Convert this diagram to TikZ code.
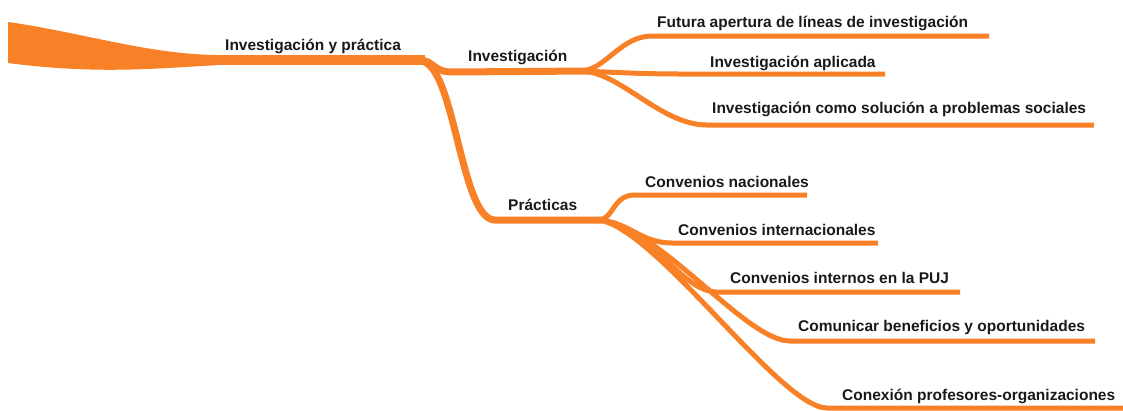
\documentclass[tikz,border=0pt]{standalone}
\usepackage{fontspec}
\setmainfont{Liberation Sans}
\definecolor{branch}{RGB}{248,128,38}
\begin{document}
\begin{tikzpicture}[x=1pt,y=-1pt,
  lbl/.style={font=\fontsize{15.5}{18}\selectfont\bfseries, inner sep=0pt, anchor=base west, text=black!90},
  br/.style={draw=branch, line width=#1, line cap=butt, line join=round}]
\useasboundingbox (0,0) rectangle (1123,410);
% trunk
\fill[branch] (8,22) .. controls (80,32) and (150,55) .. (220,55) -- (220,65) .. controls (160,68) and (100,75) .. (8,63) -- cycle;
\coordinate (t0) at (215,60);
\coordinate (t1) at (425,60);
\draw[br=10] (t0) -- (t1);
\node[lbl] (root) at (225,50) {Investigación y práctica};
% level 1
\coordinate (i0) at (452,72);
\coordinate (i1) at (590,71);
\coordinate (p0) at (495,220);
\coordinate (p1) at (602,220);
\draw[br=7] (418,60) .. controls (435,60) and (432,72) .. (i0) -- (i1);
\draw[br=7] (420,61) .. controls (455,61) and (460,220) .. (p0) -- (p1);
\node[lbl] (inv) at (468,61) {Investigación};
\node[lbl] (pra) at (508,210) {Prácticas};
% Investigación children
\coordinate (a0) at (652,36);  \coordinate (a1) at (989,36);
\coordinate (b0) at (680,74);  \coordinate (b1) at (885,74);
\coordinate (c0) at (707,125); \coordinate (c1) at (1094,125);
\draw[br=5] (580,71) .. controls (605,71) and (620,36) .. (a0) -- (a1);
\draw[br=5] (580,71) .. controls (610,72) and (640,74) .. (b0) -- (b1);
\draw[br=5] (580,71) .. controls (620,71) and (660,125) .. (c0) -- (c1);
\node[lbl] (fa) at (657,27) {Futura apertura de líneas de investigación};
\node[lbl] (fb) at (710,67) {Investigación aplicada};
\node[lbl] (fc) at (712,113) {Investigación como solución a problemas sociales};
% Prácticas children
\coordinate (d0) at (635,195); \coordinate (d1) at (807,195);
\coordinate (e0) at (672,243); \coordinate (e1) at (878,243);
\coordinate (f0) at (717,292); \coordinate (f1) at (960,292);
\coordinate (g0) at (790,341); \coordinate (g1) at (1095,341);
\coordinate (h0) at (827,408); \coordinate (h1) at (1123,408);
\draw[br=5] (598,220) .. controls (614,220) and (612,195) .. (d0) -- (d1);
\draw[br=5] (598,220) .. controls (630,222) and (640,243) .. (e0) -- (e1);
\draw[br=5] (598,220) .. controls (650,224) and (680,292) .. (f0) -- (f1);
\draw[br=5] (598,220) .. controls (660,226) and (745,341) .. (g0) -- (g1);
\draw[br=5] (598,220) .. controls (655,226) and (780,408) .. (h0) -- (h1);
\node[lbl] (pd) at (645,187) {Convenios nacionales};
\node[lbl] (pe) at (678,235) {Convenios internacionales};
\node[lbl] (pf) at (730,283) {Convenios internos en la PUJ};
\node[lbl] (pg) at (798,331) {Comunicar beneficios y oportunidades};
\node[lbl] (ph) at (842,400) {Conexión profesores-organizaciones};
\end{tikzpicture}
\end{document}
